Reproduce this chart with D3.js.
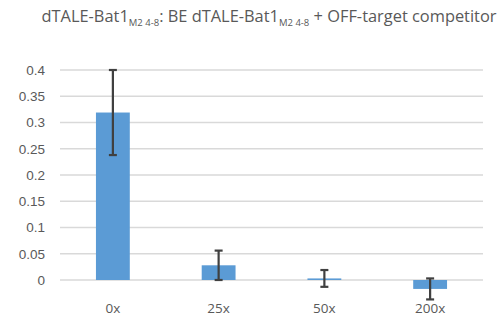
<!DOCTYPE html>
<html>
<head>
<meta charset="utf-8">
<script src="https://cdn.jsdelivr.net/npm/d3@7"></script>
<style>
  html, body { margin: 0; padding: 0; background: #fff; }
  svg { display: block; font-family: "Open Sans", "Noto Sans", sans-serif; }
</style>
</head>
<body>
<svg id="chart" width="501" height="322"></svg>
<script>
// Competitor dilution series
const categories = ["0x", "25x", "50x", "200x"];
const values = [0.319, 0.028, 0.003, -0.017];
const errors = [0.081, 0.028, 0.016, 0.020];
const yTicks = [0, 0.05, 0.1, 0.15, 0.2, 0.25, 0.3, 0.35, 0.4];

const svg = d3.select("#chart");
const margin = { left: 60, right: 18, top: 70, bottom: 42 };
const W = 501, H = 322;

const x = d3.scaleBand()
  .domain(categories)
  .range([margin.left, W - margin.right])
  .paddingInner(0.68)
  .paddingOuter(0.34);

const y = d3.scaleLinear()
  .domain([0, 0.4])
  .range([280, 70]);

// Gridlines
svg.append("g")
  .selectAll("line")
  .data(yTicks)
  .join("line")
  .attr("x1", margin.left)
  .attr("x2", W - margin.right)
  .attr("y1", d => y(d))
  .attr("y2", d => y(d))
  .attr("stroke", "#d9d9d9")
  .attr("stroke-width", 1.5);

// Y axis labels
const yAxis = d3.axisLeft(y)
  .tickValues(yTicks)
  .tickFormat(d => d3.format("")(+d.toFixed(2)))
  .tickSize(0)
  .tickPadding(15);
const ya = svg.append("g")
  .attr("transform", `translate(${margin.left},0)`)
  .call(yAxis);
ya.select(".domain").remove();
ya.selectAll("text")
  .attr("fill", "#595959")
  .style("font-size", "13.5px");

// Bars
svg.append("g")
  .selectAll("rect")
  .data(values)
  .join("rect")
  .attr("x", (d, i) => x(categories[i]))
  .attr("width", x.bandwidth())
  .attr("y", d => y(Math.max(0, d)))
  .attr("height", d => Math.abs(y(d) - y(0)))
  .attr("fill", "#5b9bd5");

// Error bars
const eg = svg.append("g")
  .attr("stroke", "#404040")
  .attr("stroke-width", 2.2);
values.forEach((v, i) => {
  const cx = x(categories[i]) + x.bandwidth() / 2;
  const hi = y(v + errors[i]), lo = y(v - errors[i]);
  eg.append("line").attr("x1", cx).attr("x2", cx).attr("y1", hi).attr("y2", lo);
  eg.append("line").attr("x1", cx - 4).attr("x2", cx + 4).attr("y1", hi).attr("y2", hi);
  eg.append("line").attr("x1", cx - 4).attr("x2", cx + 4).attr("y1", lo).attr("y2", lo);
});

// X axis labels
svg.append("g")
  .selectAll("text")
  .data(categories)
  .join("text")
  .attr("x", d => x(d) + x.bandwidth() / 2)
  .attr("y", 313)
  .attr("text-anchor", "middle")
  .attr("fill", "#595959")
  .style("font-size", "13.5px")
  .text(d => d);

// Title with subscripts
const title = svg.append("text")
  .attr("x", 269)
  .attr("y", 22)
  .attr("text-anchor", "middle")
  .attr("fill", "#595959")
  .style("font-size", "16.4px");
const parts = [
  ["dTALE-Bat1", false],
  ["M2 4-8", true],
  [": BE dTALE-Bat1", false],
  ["M2 4-8", true],
  [" + OFF-target competitor", false]
];
parts.forEach(([t, sub], i) => {
  const ts = title.append("tspan").text(t);
  if (sub) ts.attr("dy", 4).style("font-size", "9.5px");
  else if (i > 0 && parts[i - 1][1]) ts.attr("dy", -4);
});
</script>
</body>
</html>
